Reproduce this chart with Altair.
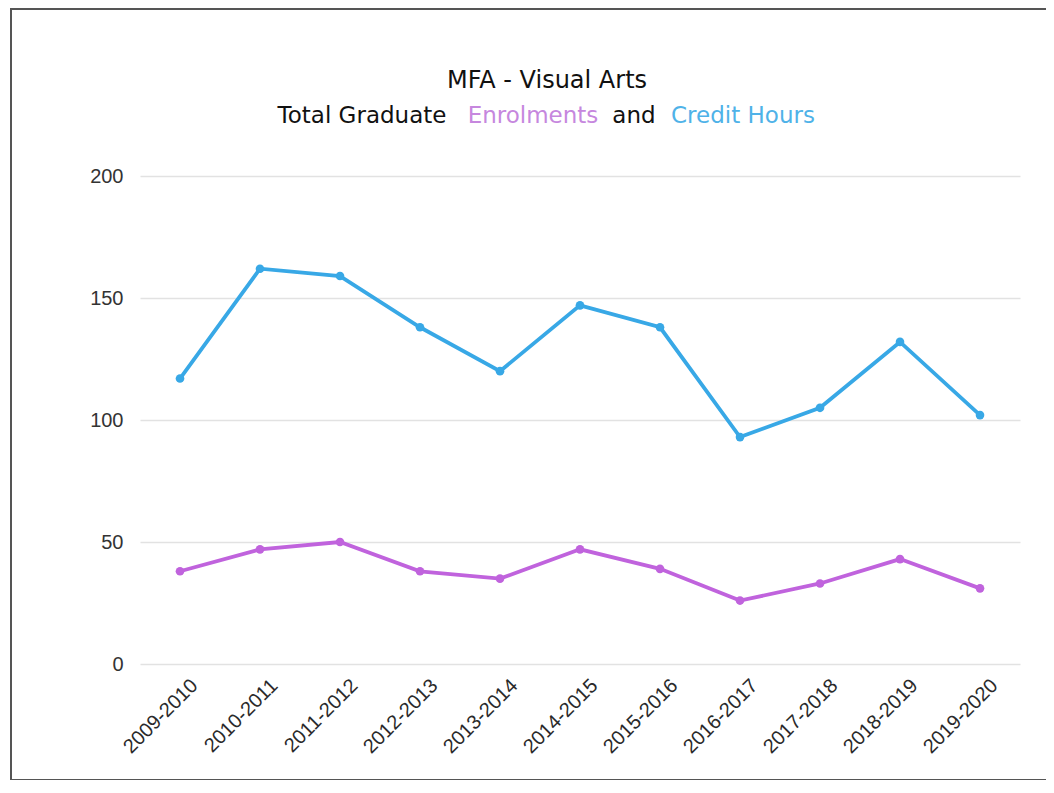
import altair as alt
import pandas as pd

years = ["2009-2010", "2010-2011", "2011-2012", "2012-2013", "2013-2014", "2014-2015",
         "2015-2016", "2016-2017", "2017-2018", "2018-2019", "2019-2020"]
credit_hours = [117, 162, 159, 138, 120, 147, 138, 93, 105, 132, 102]
enrolments = [38, 47, 50, 38, 35, 47, 39, 26, 33, 43, 31]

series_names = ["Credit Hours", "Enrolments"]
series_colors = ["#38a8e6", "#c063dd"]

title_line1 = "MFA - Visual Arts"
title_parts = ["Total Graduate", "Enrolments", "and", "Credit Hours"]
title_part_colors = ["#111111", "#c687de", "#111111", "#4fb2e8"]
title_part_x = [222, 393, 494, 603]

rows = []
for y, c, e in zip(years, credit_hours, enrolments):
    rows.append({"year": y, "series": "Credit Hours", "value": c})
    rows.append({"year": y, "series": "Enrolments", "value": e})
df = pd.DataFrame(rows)

W, H = 880, 488

x_enc = alt.X("year:N", sort=years, title=None,
              scale=alt.Scale(type="point", padding=0.5),
              axis=alt.Axis(labelAngle=-45, labelAlign="right", labelBaseline="top",
                            labelPadding=11, labelOffset=7, labelFontSize=20,
                            labelColor="#2a2a2a", labelFont="Liberation Sans",
                            ticks=False, domain=False, grid=False))
y_enc = alt.Y("value:Q", title=None,
              scale=alt.Scale(domain=[0, 200], nice=False),
              axis=alt.Axis(values=[0, 50, 100, 150, 200], labelFontSize=20,
                            labelColor="#333333", labelFont="Liberation Sans",
                            labelPadding=17, ticks=False, domain=False,
                            gridColor="#e2e2e2", gridWidth=1.5))
color_enc = alt.Color("series:N", scale=alt.Scale(domain=series_names, range=series_colors),
                      legend=None)

base = alt.Chart(df).encode(x=x_enc, y=y_enc, color=color_enc, detail="series:N")
lines = base.mark_line(strokeWidth=3.8)
points = base.mark_point(filled=True, size=75, opacity=1)

one = alt.Data(values=[{"a": 1}])

frame = alt.Chart(one).mark_rect(fill=None, stroke="#555555", strokeWidth=2).encode(
    x=alt.value(-129), x2=alt.value(930), y=alt.value(-167), y2=alt.value(604))

TFONT = "DejaVu Sans"
t1 = alt.Chart(one).mark_text(text=title_line1, font=TFONT, fontSize=24,
                              color="#111111", align="center", baseline="middle").encode(
    x=alt.value(407), y=alt.value(-95))

tparts = []
for txt, col, xx in zip(title_parts, title_part_colors, title_part_x):
    tparts.append(alt.Chart(one).mark_text(text=txt, font=TFONT, fontSize=23, color=col,
                                           align="center", baseline="middle").encode(
        x=alt.value(xx), y=alt.value(-60)))

chart = alt.layer(lines, points, frame, t1, *tparts).properties(
    width=W, height=H,
    autosize=alt.AutoSizeParams(type="none"),
    padding={"left": 132, "top": 168, "right": 26, "bottom": 116},
).configure(background="white").configure_view(strokeWidth=0)

chart.save("out.html", embed_options={"renderer": "svg", "actions": False})
